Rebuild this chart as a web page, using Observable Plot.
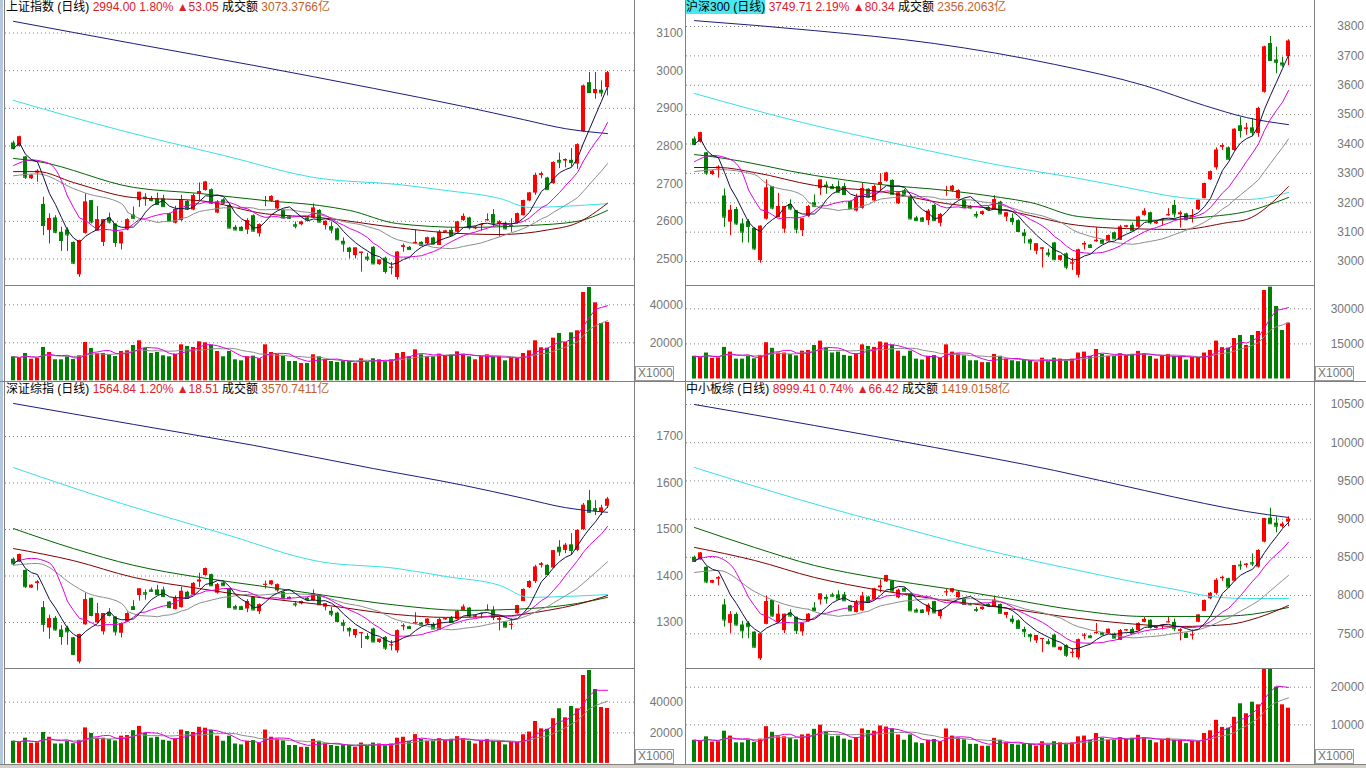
<!DOCTYPE html>
<html lang="zh">
<head>
<meta charset="utf-8">
<title>Index daily charts</title>
<script src="https://cdn.jsdelivr.net/npm/d3@7"></script>
<script src="https://cdn.jsdelivr.net/npm/@observablehq/plot@0.6"></script>
<style>
html,body{margin:0;padding:0;background:#fff;}
#root{position:relative;width:1366px;height:768px;overflow:hidden;background:#fff;}
#root > *{position:absolute;}
.hdr{font:12px "Liberation Sans","Noto Sans CJK SC",sans-serif;white-space:nowrap;line-height:15px;color:#000;}
.hdr .r{color:#e0202a}
.hdr .o{color:#c4602a}
.hdr .hl{background:#48e8f0}
.unit{font:12px "Liberation Sans",sans-serif;color:#777;border:1px solid #999;background:#fff;box-sizing:border-box;padding-left:2px;line-height:12px;width:39px;height:15px}
</style>
</head>
<body>
<div id="root"></div>
<script>
// ================= 上证指数 (top-left) =================
const shOpen  = [2808,2799,2771,2713,2728,2645,2576,2609,2571,2577,2544,2458,2568,2655,2574,2544,2609,2593,2540,2577,2617,2655,2664,2660,2660,2660,2620,2595,2602,2653,2630,2673,2682,2684,2622,2657,2642,2584,2584,2577,2615,2567,2654,2653,2633,2629,2612,2591,2591,2609,2609,2629,2589,2586,2580,2547,2529,2509,2515,2505,2531,2485,2502,2476,2451,2531,2531,2540,2544,2540,2556,2536,2571,2576,2571,2602,2609,2580,2589,2602,2618,2593,2595,2588,2595,2615,2654,2675,2722,2715,2700,2762,2760,2762,2752,2838,2968,2939,2948,2955];
const shHigh  = [2813,2826,2772,2724,2737,2664,2620,2615,2584,2583,2545,2550,2673,2655,2639,2604,2622,2593,2571,2607,2638,2677,2673,2666,2675,2669,2622,2640,2669,2655,2672,2702,2706,2686,2655,2660,2645,2589,2586,2607,2617,2593,2666,2668,2656,2631,2614,2598,2600,2612,2646,2631,2601,2598,2582,2556,2531,2529,2518,2515,2533,2497,2505,2491,2520,2540,2533,2577,2546,2558,2558,2576,2576,2582,2600,2620,2611,2586,2593,2620,2631,2602,2597,2607,2622,2656,2677,2728,2731,2717,2758,2781,2766,2793,2806,2962,2995,2995,2973,2998];
const shLow   = [2790,2797,2711,2711,2704,2562,2540,2567,2520,2520,2485,2451,2566,2593,2574,2533,2593,2531,2524,2575,2606,2637,2640,2652,2642,2637,2600,2593,2600,2630,2628,2655,2680,2645,2620,2645,2580,2576,2574,2565,2572,2558,2639,2650,2629,2607,2605,2580,2588,2600,2608,2596,2577,2567,2549,2518,2500,2500,2465,2493,2485,2483,2460,2458,2444,2518,2523,2538,2534,2538,2538,2536,2569,2560,2569,2600,2577,2578,2574,2600,2584,2558,2578,2571,2593,2614,2652,2669,2713,2684,2698,2740,2742,2744,2738,2836,2940,2924,2930,2933];
const shClose = [2793,2824,2717,2722,2733,2589,2607,2571,2549,2564,2489,2549,2651,2598,2604,2604,2598,2544,2571,2604,2608,2677,2660,2655,2645,2639,2602,2631,2655,2633,2668,2679,2704,2648,2651,2648,2582,2577,2576,2602,2574,2591,2655,2666,2654,2609,2608,2587,2598,2604,2635,2598,2600,2577,2551,2540,2520,2529,2518,2500,2487,2497,2467,2478,2518,2535,2525,2544,2536,2556,2540,2571,2574,2562,2598,2613,2583,2584,2591,2604,2595,2598,2580,2589,2620,2655,2675,2722,2726,2684,2756,2757,2764,2756,2803,2959,2942,2950,2941,2994];
const shVol   = [12630,11930,14380,11400,11750,17540,14910,11050,11050,12630,11230,13160,20170,17010,14380,14380,13680,12800,15440,15790,18600,21050,17010,14380,14910,13160,12630,14030,18940,18070,17540,20520,20000,18770,15440,12630,15440,11050,10520,12630,12980,11580,18940,14910,13860,12800,10170,10170,9120,9120,13680,12630,11050,10170,9650,10520,10170,9120,11580,9650,11580,11050,10170,11050,14380,14910,12630,16310,13680,12630,12630,14030,12980,13680,15260,14030,12630,11050,12800,13680,12630,12630,10520,11930,11930,14380,15790,21050,17370,17190,22450,24910,20170,25260,26310,46480,49120,41050,30170,30700];
const shPriceTicks = [2500,2600,2700,2800,2900,3000,3100];
const shVolTicks = [20000,40000];
const shMA10HeadI = [0,3,6,8,9];        const shMA10Head = [2748,2763,2753,2708,2666];
const shMA20HeadI = [0,4,10,12,18,19];  const shMA20Head = [2721,2726,2687,2675,2647,2625];
const shMAredI   = [0,4,10,20,31,42,51,64,72,81,89,94,99];
const shMAred    = [2732,2732,2703,2663,2655,2620,2610,2583,2570,2565,2577,2596,2648];
const shMAgreenI = [0,4,20,31,42,51,56,64,75,86,94,99];
const shMAgreen  = [2767,2759,2690,2674,2655,2642,2629,2594,2584,2589,2600,2629];
const shMAcyanI  = [0,18,35,51,64,72,81,86,92,99];
const shMAcyan   = [2921,2841,2775,2714,2698,2682,2661,2637,2640,2647];
const shMAnavyI  = [0,20,40,60,75,85,92,99];
const shMAnavy   = [3131,3072,3014,2953,2905,2870,2846,2833];

// ================= 沪深300 (top-right) =================
const hsOpen  = [3417,3406,3370,3296,3315,3223,3134,3177,3128,3136,3113,3003,3144,3255,3149,3110,3194,3173,3105,3153,3200,3248,3260,3255,3255,3255,3204,3172,3181,3246,3206,3261,3273,3276,3196,3241,3222,3148,3148,3139,3191,3130,3241,3240,3214,3209,3187,3160,3160,3184,3177,3202,3151,3147,3139,3097,3074,3035,3042,3029,3063,3004,3026,2992,2953,3056,3056,3067,3072,3067,3098,3072,3117,3123,3117,3157,3166,3128,3140,3157,3191,3159,3162,3153,3176,3214,3278,3319,3389,3387,3378,3462,3450,3455,3436,3576,3742,3686,3676,3698];
const hsHigh  = [3424,3440,3371,3310,3326,3247,3191,3184,3145,3143,3115,3121,3278,3255,3232,3187,3210,3173,3145,3191,3227,3277,3271,3262,3274,3266,3206,3229,3266,3248,3260,3299,3304,3278,3238,3245,3226,3154,3150,3177,3194,3163,3256,3259,3244,3212,3190,3169,3172,3187,3224,3205,3166,3162,3142,3109,3077,3060,3046,3042,3065,3019,3029,3011,3042,3067,3058,3115,3075,3090,3100,3123,3123,3131,3154,3180,3168,3136,3145,3180,3208,3171,3164,3177,3210,3267,3308,3387,3401,3390,3452,3490,3470,3487,3525,3733,3766,3730,3695,3755];
const hsLow   = [3394,3403,3293,3293,3284,3116,3088,3123,3063,3063,3038,2994,3141,3176,3149,3096,3173,3094,3085,3150,3186,3225,3229,3245,3232,3225,3178,3169,3178,3216,3204,3238,3270,3226,3194,3226,3142,3137,3135,3123,3136,3118,3222,3236,3209,3181,3178,3146,3157,3172,3175,3160,3136,3123,3100,3060,3037,3023,2978,3014,3004,3001,2972,2969,2944,3039,3045,3065,3060,3065,3075,3072,3114,3103,3114,3154,3125,3126,3121,3154,3148,3114,3140,3131,3173,3213,3276,3311,3378,3348,3375,3420,3430,3425,3423,3573,3682,3639,3661,3667];
const hsClose = [3398,3438,3301,3307,3321,3151,3174,3128,3100,3119,3043,3120,3250,3182,3187,3187,3179,3110,3145,3187,3188,3277,3255,3248,3236,3228,3181,3218,3248,3220,3255,3269,3301,3229,3233,3229,3145,3139,3137,3171,3139,3160,3242,3256,3241,3184,3182,3155,3169,3177,3210,3162,3165,3136,3102,3088,3063,3060,3046,3023,3006,3019,2981,2995,3039,3061,3048,3072,3062,3088,3077,3117,3121,3105,3151,3171,3132,3134,3142,3159,3162,3165,3142,3154,3208,3265,3305,3379,3394,3348,3450,3446,3454,3440,3521,3730,3684,3678,3669,3750];
const hsVol   = [9700,9200,11100,8800,9050,13500,11500,8500,8500,9700,8650,10100,15500,13100,11100,11100,10500,9900,11900,12200,14300,16200,13100,11100,11500,10100,9700,10800,14600,13900,13500,15800,15400,14500,11900,9700,11900,8500,8100,9700,10000,8900,14600,11500,10700,9900,7800,7800,7000,7000,10500,9700,8500,7800,7400,8100,7800,7000,8900,7400,8900,8500,7800,8500,11100,11500,9700,12600,10500,9700,9700,10800,10000,10500,11800,10800,9700,8500,9900,10500,9700,9700,8100,9200,9200,11100,12200,16200,13400,13200,17300,18590,14320,18590,20300,37820,39240,30990,20730,23850];
const hsPriceTicks = [3000,3100,3200,3300,3400,3500,3600,3700,3800];
const hsVolTicks = [15000,30000];
const hsMA10HeadI = [0,3,6,8,9];        const hsMA10Head = [3340,3361,3347,3300,3244];
const hsMA20HeadI = [0,4,10,12,18,19];  const hsMA20Head = [3306,3313,3296,3265,3225,3201];
const hsMAredI   = [0,4,10,20,31,42,51,64,72,81,89,92,99];
const hsMAred    = [3320,3320,3303,3259,3238,3197,3177,3123,3112,3109,3133,3143,3255];
const hsMAgreenI = [0,4,20,31,42,51,56,64,75,86,92,99];
const hsMAgreen  = [3364,3354,3293,3262,3242,3218,3201,3153,3140,3153,3170,3218];
const hsMAcyanI  = [0,18,35,51,64,72,81,86,92,99];
const hsMAcyan   = [3572,3473,3395,3327,3283,3252,3218,3211,3211,3235];
const hsMAnavyI  = [0,20,40,60,75,85,92,99];
const hsMAnavy   = [3820,3786,3742,3671,3599,3531,3490,3466];

// ================= 深证综指 (bottom-left) =================
const szOpen  = [1436,1430,1412,1374,1384,1332,1288,1309,1284,1288,1267,1215,1295,1352,1299,1280,1322,1312,1277,1301,1334,1358,1364,1370,1370,1370,1344,1328,1332,1365,1359,1387,1401,1403,1363,1385,1371,1334,1334,1329,1354,1323,1381,1381,1368,1365,1354,1340,1340,1352,1346,1359,1333,1324,1320,1299,1287,1272,1276,1270,1286,1257,1268,1251,1239,1291,1291,1297,1299,1297,1296,1283,1306,1309,1306,1326,1331,1312,1318,1326,1326,1305,1300,1295,1319,1345,1375,1388,1423,1423,1417,1462,1455,1467,1455,1500,1562,1545,1538,1550];
const szHigh  = [1439,1447,1413,1381,1390,1345,1316,1313,1293,1292,1268,1275,1363,1352,1341,1319,1330,1312,1297,1321,1347,1372,1370,1374,1380,1376,1345,1357,1376,1367,1386,1406,1417,1404,1384,1387,1373,1337,1335,1349,1355,1340,1389,1390,1383,1366,1355,1345,1346,1354,1370,1360,1340,1332,1322,1305,1289,1285,1278,1276,1288,1264,1270,1261,1284,1297,1292,1321,1300,1308,1298,1309,1309,1313,1325,1338,1332,1316,1320,1338,1334,1311,1301,1308,1337,1372,1390,1423,1429,1424,1455,1476,1470,1491,1500,1556,1584,1562,1552,1569];
const szLow   = [1424,1429,1373,1373,1368,1279,1264,1282,1251,1251,1229,1211,1294,1312,1299,1273,1312,1271,1267,1300,1326,1346,1348,1365,1358,1355,1331,1327,1331,1351,1358,1375,1400,1378,1361,1378,1331,1328,1327,1321,1326,1317,1372,1379,1365,1351,1349,1333,1338,1346,1345,1337,1325,1312,1300,1280,1269,1266,1244,1262,1257,1255,1240,1239,1234,1282,1285,1295,1293,1295,1285,1283,1305,1299,1305,1325,1310,1310,1308,1325,1304,1282,1289,1284,1318,1345,1373,1384,1417,1403,1416,1442,1448,1444,1452,1498,1535,1530,1530,1545];
const szClose = [1426,1446,1377,1380,1387,1296,1308,1284,1270,1280,1231,1274,1349,1315,1319,1319,1315,1280,1297,1319,1328,1372,1361,1367,1360,1356,1332,1351,1367,1352,1384,1391,1416,1379,1381,1379,1332,1329,1328,1345,1327,1338,1382,1389,1381,1352,1351,1338,1345,1349,1362,1338,1340,1318,1302,1294,1282,1285,1278,1266,1258,1264,1245,1252,1282,1293,1287,1299,1294,1307,1286,1306,1308,1300,1323,1333,1314,1314,1319,1327,1311,1308,1290,1296,1336,1371,1388,1419,1426,1403,1454,1452,1466,1455,1498,1552,1537,1541,1546,1565];
const szVol   = [14500,13700,16500,13100,13500,20200,17100,12700,12700,14500,12900,15100,23200,19600,16500,16500,15700,14700,17800,18200,21400,24200,19600,16500,17100,15100,14500,16100,21800,20800,20200,23600,23000,21600,17800,14500,17800,12700,12100,14500,14900,13300,21800,17100,15900,14700,11700,11700,10500,10500,15700,14500,12700,11700,11100,12100,11700,10500,13300,11100,13300,12700,11700,12700,16500,17100,14500,18800,15700,14500,14500,16100,14900,15700,17500,16100,14500,12700,14700,15700,14500,14500,12100,13700,13700,18700,20500,27400,22600,22300,29200,35690,29800,37190,35690,57450,60720,48300,36540,35880];
const szPriceTicks = [1300,1400,1500,1600,1700];
const szVolTicks = [20000,40000];
const szMA10HeadI = [0,3,6,8,9];        const szMA10Head = [1429,1438,1428,1380,1345];
const szMA20HeadI = [0,4,10,12,18,19];  const szMA20Head = [1423,1427,1380,1365,1341,1325];
const szMAredI   = [0,10,20,31,42,51,64,72,81,89,94,99];
const szMAred    = [1459,1433,1397,1373,1352,1339,1317,1311,1313,1326,1339,1358];
const szMAgreenI = [0,10,20,31,42,51,64,75,86,94,99];
const szMAgreen  = [1502,1459,1423,1397,1377,1360,1337,1326,1330,1341,1354];
const szMAcyanI  = [0,18,35,51,64,72,81,86,92,99];
const szMAcyan   = [1633,1556,1491,1431,1416,1399,1380,1354,1356,1360];
const szMAnavyI  = [0,20,40,60,75,85,92,99];
const szMAnavy   = [1771,1726,1681,1631,1595,1567,1547,1537];

// ================= 中小板综 (bottom-right) =================
const zxOpen  = [8501,8468,8370,8162,8216,7878,7637,7752,7615,7637,7522,7172,7624,7936,7646,7541,7772,7717,7525,7657,7837,7943,7976,8009,8009,8009,7866,7778,7800,7981,7948,8102,8179,8189,7970,8091,8014,7811,7811,7784,7921,7725,8043,8043,7972,7955,7895,7818,7818,7884,7851,7883,7741,7692,7670,7555,7489,7407,7429,7396,7483,7284,7345,7252,7186,7471,7471,7504,7515,7504,7498,7414,7540,7556,7540,7650,7677,7573,7606,7650,7650,7534,7507,7480,7651,7794,7958,8029,8221,8221,8188,8400,8395,8430,8372,8699,9013,8948,8900,8960];
const zxHigh  = [8518,8562,8375,8200,8249,7950,7791,7774,7665,7659,7528,7501,7996,7936,7876,7755,7815,7717,7635,7766,7909,8020,8009,8031,8063,8042,7872,7937,8042,7992,8096,8206,8266,8195,8085,8102,8025,7828,7817,7894,7926,7818,8087,8092,8054,7961,7900,7846,7851,7895,7983,7889,7779,7735,7681,7587,7500,7478,7439,7429,7494,7323,7356,7306,7432,7504,7476,7635,7520,7564,7509,7556,7556,7578,7644,7715,7682,7595,7617,7715,7693,7567,7513,7551,7750,7942,8040,8221,8254,8227,8396,8450,8420,8545,8600,9010,9144,9030,8960,9030];
const zxLow   = [8436,8463,8156,8156,8129,7588,7506,7604,7435,7435,7314,7150,7618,7717,7646,7503,7717,7492,7470,7651,7794,7877,7888,7981,7943,7926,7795,7773,7795,7905,7943,8036,8173,8052,7959,8052,7795,7778,7773,7740,7768,7692,7994,8032,7955,7879,7868,7780,7807,7851,7846,7763,7697,7626,7560,7450,7390,7374,7253,7352,7324,7273,7191,7186,7158,7421,7438,7493,7482,7493,7438,7414,7534,7502,7534,7644,7562,7562,7551,7644,7529,7408,7447,7419,7646,7794,7947,8007,8188,8111,8183,8330,8360,8380,8360,8690,8935,8820,8880,8900];
const zxClose = [8447,8556,8178,8194,8233,7681,7747,7615,7539,7593,7325,7496,7920,7733,7755,7755,7733,7541,7635,7755,7804,8020,7959,7992,7954,7932,7800,7905,7992,7910,8085,8124,8261,8058,8069,8058,7800,7784,7778,7872,7773,7807,8048,8087,8043,7884,7879,7807,7846,7868,7939,7768,7779,7659,7571,7527,7461,7478,7439,7374,7330,7323,7219,7257,7421,7482,7449,7515,7487,7558,7443,7540,7551,7507,7633,7688,7584,7584,7611,7655,7567,7551,7452,7485,7744,7936,8029,8199,8238,8111,8391,8390,8410,8415,8590,9005,8940,8908,8933,8999];
const zxVol   = [5900,5600,6800,5400,5500,8300,7000,5200,5200,5900,5300,6200,9500,8000,6800,6800,6400,6000,7300,7500,8800,9900,8000,6800,7000,6200,5900,6600,8900,8500,8300,9700,9400,8900,7300,5900,7300,5200,5000,5900,6100,5500,8900,7000,6500,6000,4800,4800,4300,4300,6400,5900,5200,4800,4600,5000,4800,4300,5500,4600,5500,5200,4800,5200,6800,7000,5900,7700,6400,5900,5900,6600,6100,6400,7200,6600,5900,5200,6000,6400,5900,5900,5000,5600,5600,7700,8400,11200,9300,9100,12000,15590,12930,16010,15320,25000,25000,20000,15320,14420];
const zxPriceTicks = [7500,8000,8500,9000,9500,10000,10500];
const zxVolTicks = [10000,20000];
const zxMA10HeadI = [0,3,6,8,9];        const zxMA10Head = [8463,8512,8404,8141,7978];
const zxMA20HeadI = [0,4,10,12,18,19];  const zxMA20Head = [8302,8329,8054,7976,7832,7822];
const zxMAredI   = [0,10,20,31,42,51,64,72,81,89,94,99];
const zxMAred    = [8630,8460,8237,8067,7936,7845,7701,7635,7596,7622,7714,7871];
const zxMAgreenI = [0,10,20,31,42,51,64,75,86,91,99];
const zxMAgreen  = [8891,8630,8394,8224,8093,7976,7806,7727,7727,7740,7845];
const zxMAcyanI  = [0,18,35,51,64,72,81,86,92,99];
const zxMAcyan   = [9676,9244,8878,8551,8329,8198,8067,7989,7962,7962];
const zxMAnavyI  = [0,20,40,60,75,85,92,99];
const zxMAnavy   = [10500,10225,9938,9637,9375,9205,9100,9022];

// ================= drawing =================
const RED = "#ff0000", GREEN = "#008000";
const C_MA5 = "#101040", C_MA10 = "#e000e0", C_MA20 = "#8c8c8c", C_GREEN = "#006400", C_RED = "#800000", C_CYAN = "#38e0e8", C_NAVY = "#1c1c80";
const slots = d3.range(103);
const root = document.getElementById("root");

function rowsOf(o,h,l,c,v){ return o.map((_,i)=>({i, o:o[i], h:h[i], l:l[i], c:c[i], v:v[i], up: c[i] >= o[i]})); }
function pts(xs, ys){ return xs.map((x,k)=>({i:x, v:ys[k]})); }
function place(el, left, top){ el.style.left = left+"px"; el.style.top = top+"px"; root.appendChild(el); return el; }
const xScale = {type:"band", domain:slots, range:[5.25,633.55], paddingInner:0.3, paddingOuter:0.15, axis:null};
const svgStyle = {background:"transparent", fontFamily:"'Liberation Sans', Arial, sans-serif", fontSize:"12px", overflow:"hidden"};
function axis(ticks){ return Plot.axisY(ticks, {anchor:"right", tickSize:0, tickPadding:0, textAnchor:"end", dx:48.5, fontSize:12, color:"#777", tickFormat:"d", label:null}); }

function drawPanel(p){
  const rows = rowsOf(p.o,p.h,p.l,p.c,p.v);
  const up = rows.filter(d=>d.up), dn = rows.filter(d=>!d.up);
  const candle = (data, col) => [
    Plot.ruleX(data, {x:"i", y1:"l", y2:"h", stroke:col}),
    Plot.barY(data, {x:"i", y1:"o", y2:"c", fill:col}),
    Plot.tickY(data, {x:"i", y:"c", stroke:col})
  ];
  const sparse = (xs, ys, col) => Plot.line(pts(xs, ys), {x:"i", y:"v", stroke:col, strokeWidth:1, curve:"monotone-x"});
  const price = Plot.plot({
    width:685, height:p.ph, marginLeft:5, marginRight:51, marginTop:0, marginBottom:0,
    x:xScale, y:{domain:p.yDomain, range:p.yRange, label:null},
    style:svgStyle,
    marks:[
      Plot.gridY(p.yTicks, {stroke:"#808080", strokeOpacity:1, strokeDasharray:"1,3"}),
      axis(p.yTicks),
      ...candle(dn, GREEN), ...candle(up, RED),
      sparse(p.navyI, p.navy, C_NAVY),
      sparse(p.cyanI, p.cyan, C_CYAN),
      sparse(p.greenI, p.green, C_GREEN),
      sparse(p.redI, p.red, C_RED),
      sparse(p.ma20hi, p.ma20h, C_MA20),
      Plot.lineY(rows, Plot.windowY({k:20, anchor:"end", strict:true}, {x:"i", y:"c", stroke:C_MA20, strokeWidth:1})),
      sparse(p.ma10hi, p.ma10h, C_MA10),
      Plot.lineY(rows, Plot.windowY({k:10, anchor:"end", strict:true}, {x:"i", y:"c", stroke:C_MA10, strokeWidth:1})),
      Plot.lineY(rows, Plot.windowY({k:5, anchor:"end"}, {x:"i", y:"c", stroke:C_MA5, strokeWidth:1}))
    ]
  });
  place(price, p.left, p.top);
  const vol = Plot.plot({
    width:685, height:96, marginLeft:5, marginRight:51, marginTop:0, marginBottom:0,
    x:xScale, y:{domain:p.vDomain, range:p.vRange, label:null},
    style:svgStyle,
    marks:[
      Plot.gridY(p.vTicks, {stroke:"#808080", strokeOpacity:1, strokeDasharray:"1,3"}),
      axis(p.vTicks),
      Plot.barY(dn, {x:"i", y:"v", fill:GREEN}),
      Plot.barY(up, {x:"i", y:"v", fill:RED}),
      Plot.lineY(rows, Plot.windowY({k:10, anchor:"end"}, {x:"i", y:"v", stroke:C_MA20, strokeWidth:1})),
      Plot.lineY(rows, Plot.windowY({k:5, anchor:"end"}, {x:"i", y:"v", stroke:C_MA10, strokeWidth:1}))
    ]
  });
  place(vol, p.left, p.top + p.ph);
}

drawPanel({left:0, top:0, ph:285, o:shOpen, h:shHigh, l:shLow, c:shClose, v:shVol,
  yDomain:[2500,3100], yRange:[258.5,32.5], yTicks:shPriceTicks,
  vDomain:[0,40000], vRange:[95.3,19.3], vTicks:shVolTicks,
  ma10hi:shMA10HeadI, ma10h:shMA10Head, ma20hi:shMA20HeadI, ma20h:shMA20Head,
  redI:shMAredI, red:shMAred, greenI:shMAgreenI, green:shMAgreen, cyanI:shMAcyanI, cyan:shMAcyan, navyI:shMAnavyI, navy:shMAnavy});
drawPanel({left:681, top:0, ph:285, o:hsOpen, h:hsHigh, l:hsLow, c:hsClose, v:hsVol,
  yDomain:[3000,3800], yRange:[261,26], yTicks:hsPriceTicks,
  vDomain:[0,30000], vRange:[93.5,23.3], vTicks:hsVolTicks,
  ma10hi:hsMA10HeadI, ma10h:hsMA10Head, ma20hi:hsMA20HeadI, ma20h:hsMA20Head,
  redI:hsMAredI, red:hsMAred, greenI:hsMAgreenI, green:hsMAgreen, cyanI:hsMAcyanI, cyan:hsMAcyan, navyI:hsMAnavyI, navy:hsMAnavy});
drawPanel({left:0, top:381, ph:287, o:szOpen, h:szHigh, l:szLow, c:szClose, v:szVol,
  yDomain:[1300,1700], yRange:[241,55], yTicks:szPriceTicks,
  vDomain:[0,40000], vRange:[94.9,33.7], vTicks:szVolTicks,
  ma10hi:szMA10HeadI, ma10h:szMA10Head, ma20hi:szMA20HeadI, ma20h:szMA20Head,
  redI:szMAredI, red:szMAred, greenI:szMAgreenI, green:szMAgreen, cyanI:szMAcyanI, cyan:szMAcyan, navyI:szMAnavyI, navy:szMAnavy});
drawPanel({left:681, top:381, ph:287, o:zxOpen, h:zxHigh, l:zxLow, c:zxClose, v:zxVol,
  yDomain:[7500,10500], yRange:[252.3,23], yTicks:zxPriceTicks,
  vDomain:[0,20000], vRange:[93.9,18.7], vTicks:zxVolTicks,
  ma10hi:zxMA10HeadI, ma10h:zxMA10Head, ma20hi:zxMA20HeadI, ma20h:zxMA20Head,
  redI:zxMAredI, red:zxMAred, greenI:zxMAgreenI, green:zxMAgreen, cyanI:zxMAcyanI, cyan:zxMAcyan, navyI:zxMAnavyI, navy:zxMAnavy});

// ================= frame lines, headers, unit boxes =================
function box(left, top, w, h, bg){ const d=document.createElement("div"); d.style.width=w+"px"; d.style.height=h+"px"; d.style.background=bg; return place(d,left,top); }
box(0,0,3,765,"#b4c8e0");
box(4,0,1,765,"#808080");
box(634,0,1,765,"#808080");
box(685,0,1,765,"#808080");
box(1314,0,1,765,"#808080");
box(5,285,629,1,"#808080"); box(686,285,628,1,"#808080");
box(5,668,629,1,"#808080"); box(686,668,628,1,"#808080");
box(0,381,1366,1,"#808080");
box(0,764,1366,1,"#808080");
box(0,765,1366,3,"#d4d0c8");

const headers = [
  {left:6, top:0, name:"上证指数 (日线)", hl:false, px:"2994.00 1.80%", chg:"▲53.05", amt:"3073.3766亿"},
  {left:686, top:0, name:"沪深300 (日线)", hl:true, px:"3749.71 2.19%", chg:"▲80.34", amt:"2356.2063亿"},
  {left:6, top:382, name:"深证综指 (日线)", hl:false, px:"1564.84 1.20%", chg:"▲18.51", amt:"3570.7411亿"},
  {left:686, top:382, name:"中小板综 (日线)", hl:false, px:"8999.41 0.74%", chg:"▲66.42", amt:"1419.0158亿"}
];
for (const h of headers){
  const d = document.createElement("div"); d.className="hdr";
  const n = document.createElement("span"); n.textContent = h.name; if (h.hl) n.className="hl";
  const a = document.createElement("span"); a.className="r"; a.textContent = " " + h.px + " " + h.chg;
  const b = document.createElement("span"); b.textContent = " 成交额 ";
  const c = document.createElement("span"); c.className="o"; c.textContent = h.amt;
  d.append(n,a,b,c);
  place(d, h.left, h.top);
}
for (const [l,t] of [[635,366],[1315,366],[635,749],[1315,749]]){
  const d = document.createElement("div"); d.className="unit"; d.textContent="X1000"; place(d,l,t);
}
</script>
</body>
</html>
